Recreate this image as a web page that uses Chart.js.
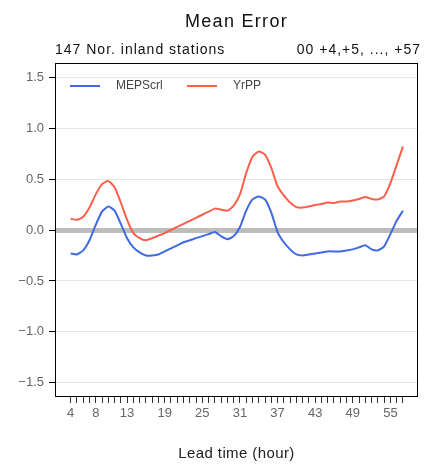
<!DOCTYPE html>
<html>
<head>
<meta charset="utf-8">
<script src="https://cdn.jsdelivr.net/npm/chart.js@4/dist/chart.umd.min.js"></script>
<style>
  html, body { margin: 0; padding: 0; background: #fff; }
  #wrap { width: 424px; height: 466px; }
</style>
</head>
<body>
<div id="wrap"><canvas id="c" width="424" height="466"></canvas></div>
<script>
// ---- data ----
const hours = [4,5,6,7,8,9,10,11,12,13,14,15,16,17,18,19,20,21,22,23,24,25,26,27,28,29,30,
  31,32,33,34,35,36,37,38,39,40,41,42,43,44,45,46,47,48,49,50,51,52,53,54,55,56,57];
const mepscrl = [-0.23,-0.24,-0.20,-0.10,0.05,0.18,0.23,0.19,0.06,-0.08,-0.17,-0.22,-0.25,-0.25,
  -0.24,-0.21,-0.18,-0.15,-0.12,-0.10,-0.08,-0.06,-0.04,-0.02,-0.06,-0.09,-0.06,
  0.03,0.19,0.30,0.33,0.30,0.17,-0.02,-0.12,-0.19,-0.24,-0.25,-0.24,-0.23,-0.22,-0.21,
  -0.21,-0.21,-0.20,-0.19,-0.17,-0.15,-0.19,-0.20,-0.16,-0.04,0.09,0.19];
const yrpp = [0.11,0.10,0.13,0.22,0.35,0.45,0.48,0.42,0.27,0.10,-0.03,-0.08,-0.10,-0.08,
  -0.055,-0.03,0.00,0.03,0.06,0.09,0.12,0.15,0.18,0.21,0.20,0.19,0.24,
  0.35,0.56,0.72,0.77,0.74,0.61,0.43,0.34,0.27,0.225,0.22,0.23,0.245,0.255,0.27,
  0.265,0.28,0.28,0.29,0.305,0.325,0.305,0.30,0.33,0.46,0.64,0.82];
const seriesNames = ['MEPScrl', 'YrPP'];
const xTickLabels = [4,8,13,19,25,31,37,43,49,55];
const yTicks = [-1.5,-1.0,-0.5,0.0,0.5,1.0,1.5];
const titleText = 'Mean Error';
const subLeft = '147 Nor. inland stations';
const subRight = '00 +4,+5, ..., +57';
const xTitle = 'Lead time (hour)';

const colors = ['#4169e1', '#f8604c'];
const FONT = '"Liberation Sans", Arial, sans-serif';

const toXY = (arr) => arr.map((v, i) => ({ x: hours[i], y: v }));

const decor = {
  id: 'decor',
  afterDraw(chart) {
    const ctx = chart.ctx;
    const a = chart.chartArea;
    ctx.save();
    // box
    ctx.strokeStyle = '#000';
    ctx.lineWidth = 1;
    ctx.strokeRect(Math.round(a.left) + 0.5, Math.round(a.top) + 0.5,
      Math.round(a.right - a.left) - 1, Math.round(a.bottom - a.top));
    const cx = (a.left + a.right) / 2;
    // title
    ctx.fillStyle = '#111';
    ctx.textBaseline = 'middle';
    ctx.textAlign = 'center';
    ctx.font = '18px ' + FONT;
    ctx.letterSpacing = '1.3px';
    ctx.fillText(titleText, cx, 22);
    // subtitles
    ctx.font = '14px ' + FONT;
    ctx.letterSpacing = '1px';
    ctx.textAlign = 'left';
    ctx.fillText(subLeft, a.left, 50);
    ctx.textAlign = 'right';
    ctx.fillText(subRight, a.right + 3, 50);
    // x title
    ctx.textAlign = 'center';
    ctx.font = '15px ' + FONT;
    ctx.letterSpacing = '0.4px';
    ctx.fillStyle = '#222';
    ctx.fillText(xTitle, cx, 454);
    // legend
    ctx.font = '12px ' + FONT;
    ctx.letterSpacing = '0px';
    ctx.textAlign = 'left';
    const items = chart.data.datasets;
    let lx = a.left + 15;
    const ly = 86;
    items.forEach((ds) => {
      ctx.strokeStyle = ds.borderColor;
      ctx.lineWidth = 2;
      ctx.beginPath();
      ctx.moveTo(lx, ly);
      ctx.lineTo(lx + 30, ly);
      ctx.stroke();
      ctx.fillStyle = '#444';
      ctx.fillText(ds.label, lx + 46, ly);
      lx += 117;
    });
    ctx.restore();
  }
};

new Chart(document.getElementById('c'), {
  type: 'line',
  data: {
    datasets: [
      { label: seriesNames[0], data: toXY(mepscrl), borderColor: colors[0], borderWidth: 2, pointRadius: 0, tension: 0.2, fill: false },
      { label: seriesNames[1], data: toXY(yrpp), borderColor: colors[1], borderWidth: 2, pointRadius: 0, tension: 0.2, fill: false }
    ]
  },
  options: {
    responsive: false,
    animation: false,
    events: [],
    layout: { padding: { top: 63, right: 6, left: 0, bottom: 0 } },
    plugins: { legend: { display: false }, title: { display: false }, tooltip: { enabled: false } },
    scales: {
      x: {
        type: 'linear',
        min: 1.5,
        max: 59.4,
        afterFit(s) { s.height = 70; },
        afterBuildTicks(s) { s.ticks = hours.map(v => ({ value: v })); },
        border: { display: false },
        grid: { display: true, drawOnChartArea: false, drawTicks: true, tickLength: 7, tickColor: '#333', tickWidth: 1 },
        ticks: {
          autoSkip: false,
          maxRotation: 0,
          padding: 3,
          color: '#666',
          font: { family: FONT, size: 13 },
          callback: (v) => xTickLabels.includes(v) ? String(v) : ''
        }
      },
      y: {
        min: -1.63,
        max: 1.64,
        afterFit(s) { s.width = 55; },
        afterBuildTicks(s) { s.ticks = yTicks.map(v => ({ value: v })); },
        border: { display: false },
        grid: {
          drawOnChartArea: true,
          drawTicks: true,
          tickLength: 6,
          tickColor: '#000',
          tickWidth: 1,
          color: (c) => (c.tick && c.tick.value === 0) ? '#bdbdbd' : '#e6e6e6',
          lineWidth: (c) => (c.tick && c.tick.value === 0) ? 5 : 1
        },
        ticks: {
          padding: 5,
          color: '#666',
          font: { family: FONT, size: 13 },
          callback: (v) => (v < 0 ? '\u2212' : '') + Math.abs(v).toFixed(1)
        }
      }
    }
  },
  plugins: [decor]
});
</script>
</body>
</html>
